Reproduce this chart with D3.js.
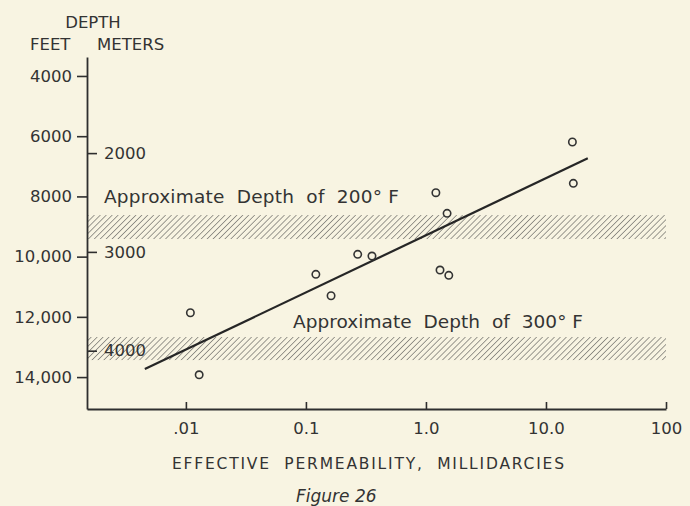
<!DOCTYPE html>
<html>
<head>
<meta charset="utf-8">
<script src="https://cdn.jsdelivr.net/npm/d3@7"></script>
<style>
  html, body { margin: 0; padding: 0; background: #f8f4e2; }
  svg { display: block; }
  text { font-family: "DejaVu Sans", sans-serif; fill: #333; }
</style>
</head>
<body>
<svg id="chart" width="690" height="506"></svg>
<script>
// ---- data ----
const permeability = [0.0109, 0.0129, 0.121, 0.162, 0.27, 0.355, 1.21, 1.50, 1.31, 1.55, 16.6, 16.9];
const depthFeet    = [11864, 13924, 10588, 11299, 9924, 9980, 7877, 8561, 10445, 10621, 6193, 7565];
const trendPerm  = [0.00455, 22.3];
const trendDepth = [13734, 6734];
const bandNames  = ["Approximate  Depth  of  200° F", "Approximate  Depth  of  300° F"];
const bandTop    = [8620, 12670];
const bandBottom = [9415, 13435];
const xTicks      = [0.01, 0.1, 1, 10, 100];
const xTickLabels = [".01", "0.1", "1.0", "10.0", "100"];
const feetTicks      = [4000, 6000, 8000, 10000, 12000, 14000];
const feetTickLabels = ["4000", "6000", "8000", "10,000", "12,000", "14,000"];
const meterTicks      = [2000, 3000, 4000];
const meterTickLabels = ["2000", "3000", "4000"];
const xDomain = [0.0015, 100];
const yDomain = [3370, 15060];

// ---- layout ----
const svg = d3.select("#chart");
const ink = "#2e2e2e";
const x = d3.scaleLog().domain(xDomain).range([87, 666]);
const y = d3.scaleLinear().domain(yDomain).range([57, 409]);
const yM = d3.scaleLinear().domain(yDomain.map(d => d * 0.3048)).range([57, 409]);

// hatch pattern
const defs = svg.append("defs");
const pat = defs.append("pattern")
  .attr("id", "hatch").attr("patternUnits", "userSpaceOnUse")
  .attr("width", 4.2).attr("height", 4.2)
  .attr("patternTransform", "rotate(45)");
pat.append("line").attr("x1", 0).attr("y1", 0).attr("x2", 0).attr("y2", 4.2)
  .attr("stroke", "#7d7b76").attr("stroke-width", 1.5);

// bands
svg.selectAll("rect.band").data(bandTop).enter().append("rect")
  .attr("class", "band")
  .attr("x", x(xDomain[0]) + 1)
  .attr("width", x(100) - x(xDomain[0]) - 1)
  .attr("y", d => y(d))
  .attr("height", (d, i) => y(bandBottom[i]) - y(d))
  .attr("fill", "url(#hatch)");

// band labels
const labelX = [104, 293];
const labelW = [295, 290];
const labelBaseOffset = [-12.5, -9];
svg.selectAll("text.bandlabel").data(bandNames).enter().append("text")
  .attr("class", "bandlabel")
  .attr("x", (d, i) => labelX[i])
  .attr("y", (d, i) => y(bandTop[i]) + labelBaseOffset[i])
  .attr("font-size", 18.5)
  .attr("textLength", (d, i) => labelW[i])
  .attr("lengthAdjust", "spacing")
  .style("white-space", "pre")
  .text(d => d);

// x axis
const xAxis = d3.axisBottom(x).tickValues(xTicks)
  .tickFormat((d, i) => xTickLabels[i])
  .tickSizeInner(-7).tickSizeOuter(0).tickPadding(13);
const gx = svg.append("g").attr("transform", `translate(0,${y(yDomain[1])})`).call(xAxis);
gx.select(".domain").attr("stroke", ink).attr("stroke-width", 1.8);
gx.selectAll(".tick line").attr("stroke", ink).attr("stroke-width", 1.6);
gx.selectAll(".tick text").attr("font-size", 16.5).attr("fill", "#333")
  .attr("font-family", "DejaVu Sans");

// y axis (feet)
const yAxis = d3.axisLeft(y).tickValues(feetTicks)
  .tickFormat((d, i) => feetTickLabels[i])
  .tickSizeInner(10).tickSizeOuter(0).tickPadding(5);
const gy = svg.append("g").attr("transform", `translate(${x(xDomain[0])},0)`).call(yAxis);
gy.select(".domain").attr("stroke", ink).attr("stroke-width", 1.8);
gy.selectAll(".tick line").attr("stroke", ink).attr("stroke-width", 1.6);
gy.selectAll(".tick text").attr("font-size", 16.5).attr("fill", "#333")
  .attr("font-family", "DejaVu Sans");

// meters axis (right side of the same line)
const mAxis = d3.axisRight(yM).tickValues(meterTicks)
  .tickFormat((d, i) => meterTickLabels[i])
  .tickSizeInner(10).tickSizeOuter(0).tickPadding(7);
const gm = svg.append("g").attr("transform", `translate(${x(xDomain[0])},0)`).call(mAxis);
gm.select(".domain").remove();
gm.selectAll(".tick line").attr("stroke", ink).attr("stroke-width", 1.6);
gm.selectAll(".tick text").attr("font-size", 16.5).attr("fill", "#333")
  .attr("font-family", "DejaVu Sans");

// trend line
svg.append("path")
  .datum(trendPerm.map((p, i) => [p, trendDepth[i]]))
  .attr("d", d3.line().x(d => x(d[0])).y(d => y(d[1])))
  .attr("stroke", "#262626").attr("stroke-width", 2.2).attr("fill", "none");

// points
svg.selectAll("circle.pt").data(permeability).enter().append("circle")
  .attr("class", "pt")
  .attr("cx", d => x(d))
  .attr("cy", (d, i) => y(depthFeet[i]))
  .attr("r", 3.7)
  .attr("fill", "none").attr("stroke", "#333").attr("stroke-width", 1.6);

// header labels
svg.append("text").attr("x", 93).attr("y", 28).attr("text-anchor", "middle")
  .attr("font-size", 16.5).text("DEPTH");
svg.append("text").attr("x", 30).attr("y", 50).attr("font-size", 16.5).text("FEET");
svg.append("text").attr("x", 97).attr("y", 50).attr("font-size", 16.5).text("METERS");

// x title
svg.append("text").attr("x", 172).attr("y", 469)
  .attr("font-size", 15.5).attr("textLength", 392).attr("lengthAdjust", "spacing")
  .style("white-space", "pre")
  .text("EFFECTIVE  PERMEABILITY,  MILLIDARCIES");

// figure caption
svg.append("text").attr("x", 296).attr("y", 502)
  .attr("font-size", 17).attr("font-style", "italic")
  .attr("font-family", "Liberation Sans, sans-serif")
  .text("Figure 26");
</script>
</body>
</html>
